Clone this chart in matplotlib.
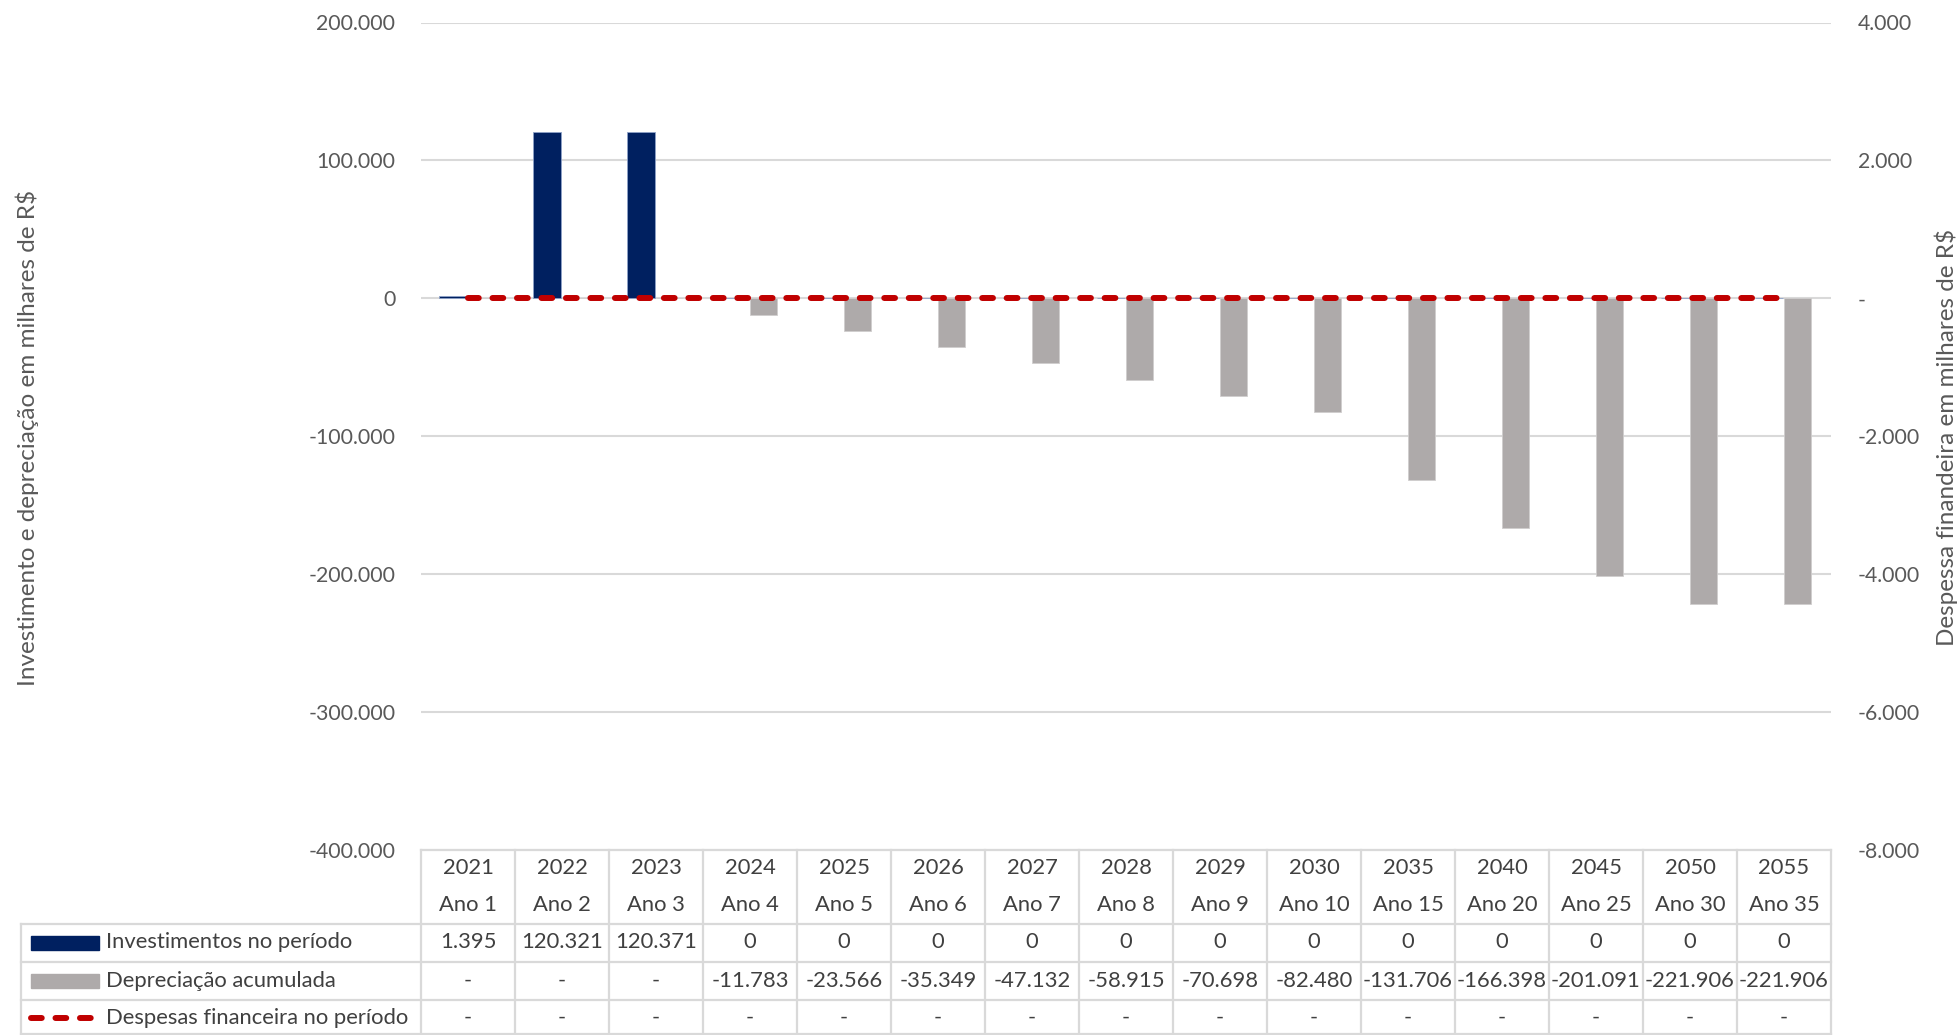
import matplotlib
matplotlib.use("Agg")
import matplotlib.pyplot as plt
from matplotlib.transforms import blended_transform_factory
from matplotlib.patches import Rectangle
from matplotlib.lines import Line2D

# ---- data (milhares de R$) ----
anos_calendario = ["2021", "2022", "2023", "2024", "2025", "2026", "2027", "2028",
                   "2029", "2030", "2035", "2040", "2045", "2050", "2055"]
anos_projeto = ["Ano 1", "Ano 2", "Ano 3", "Ano 4", "Ano 5", "Ano 6", "Ano 7", "Ano 8",
                "Ano 9", "Ano 10", "Ano 15", "Ano 20", "Ano 25", "Ano 30", "Ano 35"]
investimentos = [1395, 120321, 120371, 0, 0, 0, 0, 0, 0, 0, 0, 0, 0, 0, 0]
depreciacao = [0, 0, 0, -11783, -23566, -35349, -47132, -58915, -70698, -82480,
               -131706, -166398, -201091, -221906, -221906]
despesas_fin = [0] * 15

primary_ticks = [200000, 100000, 0, -100000, -200000, -300000, -400000]
secondary_ticks = [4000, 2000, 0, -2000, -4000, -6000, -8000]

NAVY = "#002060"
GRAY = "#AEAAAA"
RED = "#C00000"
GRID = "#D9D9D9"
TICK_TXT = "#595959"
TAB_TXT = "#404040"

plt.rcParams["font.family"] = ["Lato", "DejaVu Sans"]

W, H = 1960, 1035
fig = plt.figure(figsize=(W / 100, H / 100), dpi=100)


def fy(px):
    """pixel row measured from the top -> figure fraction"""
    return 1 - px / H


def fx(px):
    return px / W


ax_left, ax_right, ax_top, ax_bottom = 421, 1831, 22.5, 850
ax = fig.add_axes([fx(ax_left), fy(ax_bottom), fx(ax_right - ax_left),
                   (ax_bottom - ax_top) / H])
ax2 = ax.twinx()

n = len(anos_calendario)
x = list(range(n))
bw = 0.29

ax.set_zorder(1)
ax2.set_zorder(2)
ax2.patch.set_visible(False)

ax.bar([i - 0.16 for i in x], investimentos, width=bw, color=NAVY,
       edgecolor="#8EA2C8", linewidth=0.6, zorder=3)
ax.bar([i + 0.145 for i in x], depreciacao, width=bw, color=GRAY,
       edgecolor="#D0CECE", linewidth=0.6, zorder=3)

ax2.plot(x, despesas_fin, color=RED, linewidth=4.3, dashes=(1.8, 2.3),
         dash_capstyle="round", solid_capstyle="round", zorder=4)

ax.set_xlim(-0.5, n - 0.5)
ax.set_ylim(-400000, 200000)
ax2.set_ylim(-8000, 4000)

ax.set_yticks(primary_ticks)
ax2.set_yticks(secondary_ticks)


def fmt_br(v):
    s = f"{abs(int(v)):,}".replace(",", ".")
    return ("-" if v < 0 else "") + s


ax.set_yticklabels([fmt_br(v) for v in primary_ticks])
ax2.set_yticklabels(["-" if v == 0 else fmt_br(v) for v in secondary_ticks])

for a in (ax, ax2):
    for s in a.spines.values():
        s.set_visible(False)
    a.tick_params(axis="both", length=0, labelsize=15.3, colors=TICK_TXT)
ax.tick_params(axis="y", pad=18.5)
ax2.tick_params(axis="y", pad=19.5)
ax.set_xticks([])

ax.grid(axis="y", color=GRID, linewidth=1.5, zorder=0)
ax.set_axisbelow(True)

# axis titles
mid_y = fy(438)
fig.text(fx(27), mid_y, "Investimento e depreciação em milhares de R$",
         rotation=90, ha="center", va="center", fontsize=17.5, color=TICK_TXT)
fig.text(fx(1946), mid_y, "Despessa finandeira em milhares de R$",
         rotation=90, ha="center", va="center", fontsize=17.5, color=TICK_TXT)

# ---- data table below the chart ----
tr = blended_transform_factory(ax.transData, fig.transFigure)
tab_top, head_bot = 850, 924
row_lines = [924, 962, 1000, 1034]
legend_left_fx = fx(21)
lw_tab = 1.6

for xv in [i - 0.5 for i in range(n + 1)]:
    fig.add_artist(Line2D([xv, xv], [fy(tab_top), fy(1035)], transform=tr,
                          color=GRID, linewidth=lw_tab, clip_on=False))
fig.add_artist(Line2D([-0.5, n - 0.5], [fy(tab_top), fy(tab_top)], transform=tr,
                      color=GRID, linewidth=lw_tab, clip_on=False))
x_right_fig = fx(ax_right)
for ry in row_lines:
    fig.add_artist(Line2D([legend_left_fx, x_right_fig], [fy(ry), fy(ry)],
                          transform=fig.transFigure, color=GRID,
                          linewidth=lw_tab, clip_on=False))
fig.add_artist(Line2D([legend_left_fx, legend_left_fx], [fy(head_bot), fy(1035)],
                      transform=fig.transFigure, color=GRID, linewidth=lw_tab))

fs_tab = 15.8
for i in x:
    fig.text(i, fy(868), anos_calendario[i], transform=tr, ha="center",
             va="center", fontsize=fs_tab, color=TAB_TXT)
    fig.text(i, fy(905), anos_projeto[i], transform=tr, ha="center",
             va="center", fontsize=fs_tab, color=TAB_TXT)
    fig.text(i, fy(942), fmt_br(investimentos[i]), transform=tr, ha="center",
             va="center", fontsize=fs_tab, color=TAB_TXT)
    d = depreciacao[i]
    fig.text(i, fy(981), "-" if d == 0 else fmt_br(d), transform=tr,
             ha="center", va="center", fontsize=fs_tab, color=TAB_TXT)
    e = despesas_fin[i]
    fig.text(i, fy(1018), "-" if e == 0 else fmt_br(e), transform=tr,
             ha="center", va="center", fontsize=fs_tab, color=TAB_TXT)

# legend keys inside the table
fig.add_artist(Rectangle((fx(31), fy(950)), fx(68), 14 / H,
                         transform=fig.transFigure, color=NAVY))
fig.add_artist(Rectangle((fx(31), fy(988)), fx(68), 14 / H,
                         transform=fig.transFigure, color=GRAY))
fig.add_artist(Line2D([fx(31), fx(92)], [fy(1018), fy(1018)],
                      transform=fig.transFigure, color=RED, linewidth=4.3,
                      dashes=(1.8, 2.3), dash_capstyle="round"))
labels = ["Investimentos no período", "Depreciação acumulada",
          "Despesas financeira no período"]
for lab, yy in zip(labels, [942, 981, 1018]):
    fig.text(fx(106), fy(yy), lab, ha="left", va="center", fontsize=fs_tab,
             color=TAB_TXT)

fig.savefig("out.png", dpi=100, facecolor="white")
